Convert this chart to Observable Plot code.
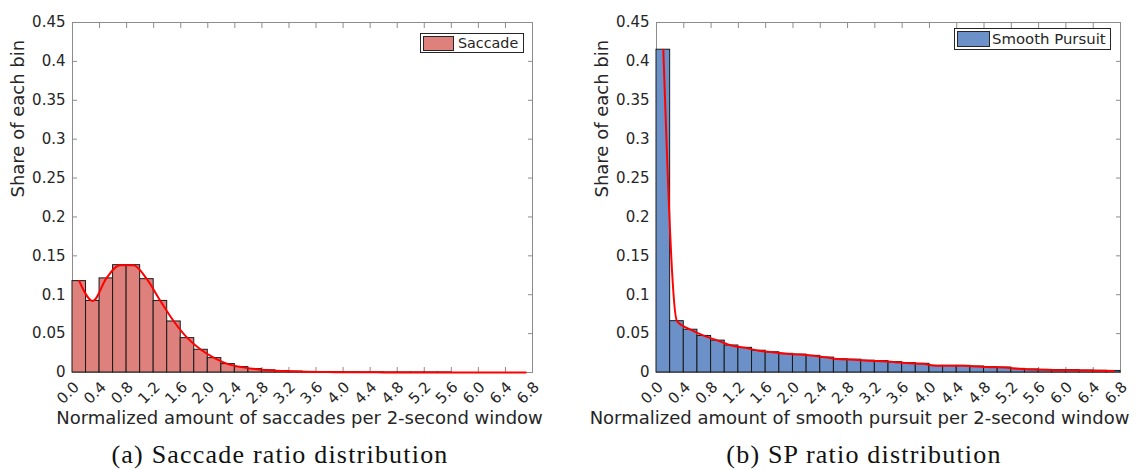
<!DOCTYPE html>
<html><head><meta charset="utf-8">
<script src="https://cdn.jsdelivr.net/npm/d3@7"></script>
<script src="https://cdn.jsdelivr.net/npm/@observablehq/plot@0.6"></script>
<style>
body{margin:0;background:#fff;}
#wrap{position:relative;width:1137px;height:470px;overflow:hidden;background:#fff;}
.panel{position:absolute;top:0;}
.legend{position:absolute;background:#fff;border:1px solid #262626;display:flex;align-items:center;box-sizing:border-box;color:#262626;font-family:"DejaVu Sans";white-space:nowrap;}
.sw{border:1px solid #262626;box-sizing:border-box;}
.cap{position:absolute;font-family:"Liberation Serif";font-size:26px;line-height:26px;letter-spacing:1.2px;color:#111;white-space:nowrap;transform:translateX(-50%);}
</style></head>
<body>
<div id="wrap"></div>
<script>
// ---- data ----
const binWidth = 0.2;
const saccadeShare = [0.1175, 0.092, 0.121, 0.138, 0.138, 0.120, 0.092, 0.0656, 0.0442, 0.0292,
  0.0185, 0.0108, 0.0069, 0.0044, 0.0028, 0.0018, 0.0012, 0.0008, 0.0006, 0.0004,
  0.0003, 0.0002, 0.0002, 0.0001, 0.0001, 0.0001, 0.0001, 0.0001, 0, 0, 0, 0, 0, 0];
const spShare = [0.415, 0.066, 0.055, 0.047, 0.041, 0.0347, 0.0317, 0.028, 0.026, 0.024,
  0.023, 0.0214, 0.0192, 0.017, 0.0165, 0.0152, 0.0146, 0.0133, 0.012, 0.0112,
  0.0086, 0.0086, 0.0086, 0.0077, 0.0068, 0.0064, 0.0047, 0.0039, 0.0034, 0.003,
  0.003, 0.0025, 0.0022, 0.002];
const xTicks = [0.0, 0.4, 0.8, 1.2, 1.6, 2.0, 2.4, 2.8, 3.2, 3.6, 4.0, 4.4, 4.8, 5.2, 5.6, 6.0, 6.4, 6.8];
const yTicks = [0, 0.05, 0.1, 0.15, 0.2, 0.25, 0.3, 0.35, 0.4, 0.45];
const yLabel = "Share of each bin";
const xLabels = ["Normalized amount of saccades per 2-second window",
                 "Normalized amount of smooth pursuit per 2-second window"];
const seriesNames = ["Saccade", "Smooth Pursuit"];
const captions = ["(a) Saccade ratio distribution", "(b) SP ratio distribution"];
const fills = ["#de807c", "#6b91c8"];

const wrap = document.getElementById("wrap");
const axisGrey = "#8c8c8c";

function panel(values, fill, xLabel, xLabelDx, width, marginLeft, marginRight) {
  const data = values.map((v, i) => ({x1: i * binWidth, x2: (i + 1) * binWidth, xc: (i + 0.5) * binWidth, y0: 0, y: v}));
  return Plot.plot({
    width, height: 440,
    marginTop: 22, marginBottom: 68, marginLeft, marginRight,
    x: {domain: [0, 6.8]},
    y: {domain: [0, 0.45]},
    style: {fontFamily: "DejaVu Sans", fontSize: "15px", color: "#262626", background: "transparent", overflow: "visible"},
    marks: [
      Plot.frame({stroke: axisGrey}),
      Plot.axisX(xTicks, {anchor: "bottom", tickSize: 5, dy: -5, tickFormat: () => "", label: null, stroke: axisGrey}),
      Plot.axisX(xTicks, {anchor: "top", tickSize: 5, dy: 5, tickFormat: () => "", label: null, stroke: axisGrey}),
      Plot.axisY(yTicks, {anchor: "left", tickSize: 5, dx: 5, tickFormat: () => "", label: null, stroke: axisGrey}),
      Plot.axisY(yTicks, {anchor: "right", tickSize: 5, dx: -5, tickFormat: () => "", label: null, stroke: axisGrey}),
      Plot.rect(data, {x1: "x1", x2: "x2", y1: "y0", y2: "y", fill, stroke: "#1a1a1a", strokeWidth: 1}),
      Plot.line(data, {x: "xc", y: "y", stroke: "#ff0000", strokeWidth: 2, curve: "monotone-x"}),
      Plot.axisX(xTicks, {anchor: "bottom", tickSize: 0, tickPadding: 12, dx: 4, tickRotate: -45, tickFormat: d3.format(".1f"), label: null, fontSize: 15}),
      Plot.axisY(yTicks, {anchor: "left", tickSize: 0, tickPadding: 7, tickFormat: d => String(d), label: null, fontSize: 15}),
      Plot.text([yLabel], {frameAnchor: "left", rotate: -90, dx: -54.5, fontSize: 18, fill: "#262626"}),
      Plot.text([xLabel], {frameAnchor: "bottom", dy: 51, dx: xLabelDx, fontSize: 18, fill: "#262626"})
    ]
  });
}

const specs = [
  {values: saccadeShare, left: 0, width: 568, ml: 72, mr: 36, dx: -3,
   legend: {left: 420, top: 33, w: 104, h: 20, sw: 31, sh: 15, fs: 14.3, gap: 4}, cap: 280},
  {values: spShare, left: 568, width: 569, ml: 88, mr: 17, dx: -29,
   legend: {left: 954, top: 28, w: 157, h: 22, sw: 33, sh: 16, fs: 14.9, gap: 2}, cap: 864}
];

specs.forEach((s, k) => {
  const div = document.createElement("div");
  div.className = "panel";
  div.style.left = s.left + "px";
  div.appendChild(panel(s.values, fills[k], xLabels[k], s.dx, s.width, s.ml, s.mr));
  wrap.appendChild(div);

  const lg = document.createElement("div");
  lg.className = "legend";
  Object.assign(lg.style, {left: s.legend.left + "px", top: s.legend.top + "px", width: s.legend.w + "px", height: s.legend.h + "px", paddingLeft: "2px", fontSize: s.legend.fs + "px"});
  const sw = document.createElement("div");
  sw.className = "sw";
  Object.assign(sw.style, {width: s.legend.sw + "px", height: s.legend.sh + "px", background: fills[k], marginRight: s.legend.gap + "px"});
  const tx = document.createElement("span");
  tx.textContent = seriesNames[k];
  lg.appendChild(sw); lg.appendChild(tx);
  wrap.appendChild(lg);

  const cap = document.createElement("div");
  cap.className = "cap";
  cap.style.left = s.cap + "px";
  cap.style.top = "442px";
  cap.textContent = captions[k];
  wrap.appendChild(cap);
});
</script>
</body></html>
